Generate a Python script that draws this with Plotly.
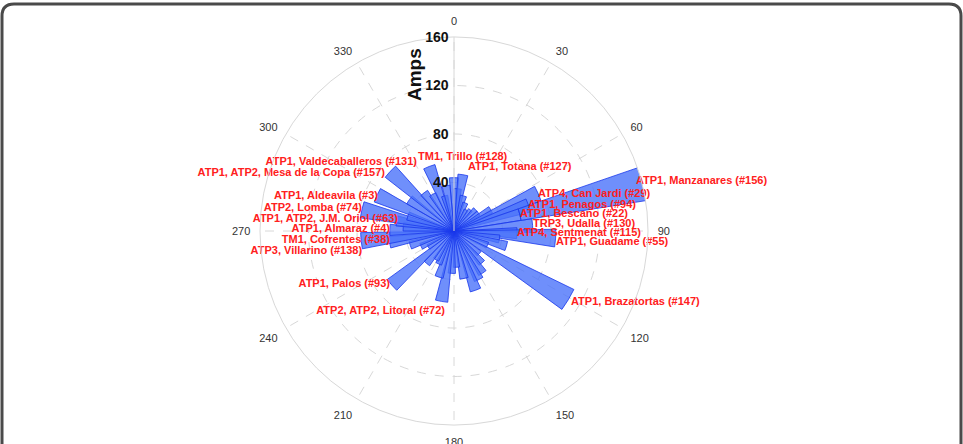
import plotly.graph_objects as go

# ---- data (angles in degrees, clockwise from north; values in Amps) ----
bar_theta = [0, 5, 9, 15, 22, 30, 38, 45, 54, 60, 66, 71, 76, 86, 92, 94, 76,
             100, 106, 113, 121, 132, 139, 146, 153, 160, 168, 176, 183, 190,
             198, 205, 212, 220, 229, 238, 245, 252, 260, 264, 271, 275, 280,
             283, 288, 295, 305, 313, 322, 330, 339, 345, 350]
bar_amps = [44, 35, 47, 30, 25, 20, 22, 25, 25, 35, 76, 65, 56, 65, 52, 84, 155,
            38, 45, 30, 110, 28, 35, 42, 45, 52, 40, 30, 35, 59,
            40, 30, 28, 35, 68, 25, 30, 38, 54, 77, 53, 42, 48,
            78, 40, 70, 45, 72, 40, 35, 57, 30, 38]

label_text = ["ATP1, Manzanares (#156)", "ATP4, Can Jardi (#29)", "ATP1, Penagos (#94)",
              "ATP1, Bescano (#22)", "TRP3, Udalla (#130)", "ATP4, Sentmenat (#115)",
              "ATP1, Guadame (#55)", "ATP1, Brazatortas (#147)", "ATP1, Totana (#127)",
              "TM1, Trillo (#128)",
              "ATP1, Valdecaballeros (#131)", "ATP1, ATP2, Mesa de la Copa (#157)",
              "ATP1, Aldeavila (#3)", "ATP2, Lomba (#74)", "ATP1, ATP2, J.M. Oriol (#63)",
              "ATP1, Almaraz (#4)", "TM1, Cofrentes (#38)", "ATP3, Villarino (#138)",
              "ATP1, Palos (#93)", "ATP2, ATP2, Litoral (#72)"]
label_theta = [74.6, 66.2, 70.6, 75.6, 84.9, 91.8, 96.2, 121.3, 12.3, 334.1,
               331.8, 310.0, 294.7, 284.0, 282.1, 271.8, 262.0, 257.7, 230.4, 186.4]
label_amps = [155.6, 75.7, 64.7, 56.2, 65.4, 52.0, 84.6, 112.9, 54.0, 67.9,
              64.6, 74.3, 69.0, 78.2, 47.2, 52.8, 53.3, 77.6, 68.5, 66.4]
label_side = ["middle right"] * 10 + ["middle left"] * 10

angle_ticks = list(range(0, 360, 30))
radial_ticks = [40, 80, 120, 160]

fig = go.Figure()
fig.add_trace(go.Barpolar(
    r=bar_amps, theta=bar_theta, width=[10] * len(bar_theta),
    marker=dict(color="rgba(75,115,250,0.80)",
                line=dict(color="rgb(25,55,235)", width=0.8)),
    hoverinfo="r+theta"))
fig.add_trace(go.Scatterpolar(
    r=label_amps, theta=label_theta, mode="text", text=label_text,
    textposition=label_side,
    textfont=dict(family="Liberation Sans, Arial", size=11, color="#ff2020", weight="bold"),
    hoverinfo="text"))

fig.update_layout(
    width=963, height=444,
    margin=dict(l=0, r=0, t=0, b=0),
    paper_bgcolor="white",
    showlegend=False,
    font=dict(family="Liberation Sans, Arial"),
    polar=dict(
        domain=dict(x=[260 / 963, 648 / 963], y=[1 - 425 / 444, 1 - 37 / 444]),
        bgcolor="white",
        radialaxis=dict(range=[0, 160], tickvals=radial_ticks,
                        showline=True, linecolor="#d8d8d8", linewidth=1,
                        gridcolor="#d8d8d8", griddash="dash", ticks="",
                        tickangle=90,
                        tickfont=dict(size=14, color="#111", weight="bold"),
                        angle=90, side="counterclockwise"),
        angularaxis=dict(rotation=90, direction="clockwise",
                         tickvals=angle_ticks, ticktext=[str(a) for a in angle_ticks],
                         showline=True, linecolor="#d8d8d8", linewidth=1,
                         gridcolor="#d8d8d8", griddash="dash",
                         ticks="outside", ticklen=7, tickcolor="rgba(0,0,0,0)",
                         tickfont=dict(size=11, color="#333")),
    ),
    annotations=[dict(text="<b>Amps</b>", xref="paper", yref="paper",
                      x=415 / 963, y=1 - 75 / 444, xanchor="center", yanchor="middle",
                      showarrow=False, textangle=-90,
                      font=dict(size=19, color="#111"))],
    shapes=[dict(type="path", xref="paper", yref="paper",
                 path=("M %f,%f L %f,%f Q %f,%f %f,%f L %f,%f Q %f,%f %f,%f L %f,%f" % (
                     2 / 963, -0.2, 2 / 963, 1 - 16 / 444,
                     2 / 963, 1 - 4 / 444, 14 / 963, 1 - 4 / 444,
                     949 / 963, 1 - 4 / 444,
                     961 / 963, 1 - 4 / 444, 961 / 963, 1 - 16 / 444,
                     961 / 963, -0.2)),
                 line=dict(color="#4a4a4a", width=3))],
)

fig.write_html("out.html")
